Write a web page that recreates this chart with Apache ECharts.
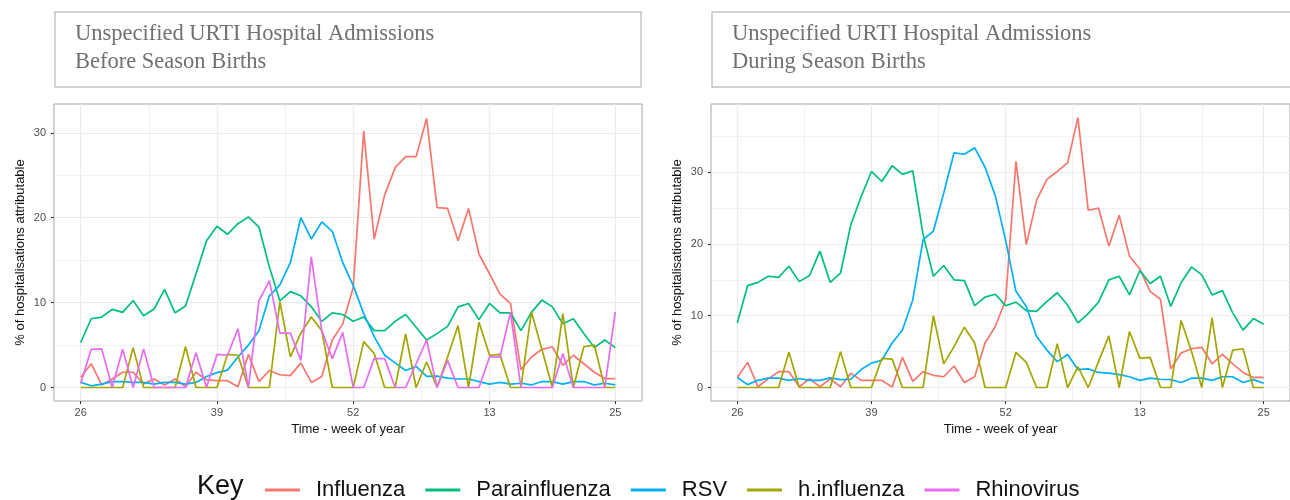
<!DOCTYPE html>
<html>
<head>
<meta charset="utf-8">
<script src="https://cdn.jsdelivr.net/npm/echarts@6/dist/echarts.min.js"></script>
<style>
html, body { margin: 0; padding: 0; background: #fff; }
#chart { width: 1290px; height: 500px; }
</style>
</head>
<body>
<div id="chart"></div>
<script>
// week of year, season runs July to June
const weeks = [26, 27, 28, 29, 30, 31, 32, 33, 34, 35, 36, 37, 38, 39, 40, 41, 42, 43, 44, 45, 46, 47, 48, 49, 50, 51, 52,
    1, 2, 3, 4, 5, 6, 7, 8, 9, 10, 11, 12, 13, 14, 15, 16, 17, 18, 19, 20, 21, 22, 23, 24, 25];
const xTicks = [0, 13, 26, 39, 51];          // positions of 26, 39, 52, 13, 25
const xMinor = [6.5, 19.5, 32.5, 45];
const yTicks = [0, 10, 20, 30];
const yMinor = [5, 15, 25, 35];

// Before season births
const influenzaBefore = [1.2, 2.8, 0.3, 1.0, 1.8, 1.8, 0.4, 1.0, 0.3, 1.0, 0.1, 1.8, 0.9, 0.8, 0.8, 0.1, 3.9, 0.7,
    2.0, 1.5, 1.4, 2.9, 0.6, 1.3, 5.6, 7.5, 11.8, 30.2, 17.5, 22.7, 25.9, 27.2, 27.2, 31.7, 21.2, 21.1, 17.3,
    21.1, 15.7, 13.4, 11.0, 9.9, 2.1, 3.6, 4.5, 4.8, 2.6, 3.8, 2.8, 1.8, 1.05, 1.05];
const paraBefore = [5.3, 8.1, 8.3, 9.2, 8.85, 10.25, 8.45, 9.25, 11.55, 8.8, 9.6, 13.4, 17.3, 19.0, 18.05, 19.3, 20.1, 18.9,
    14.2, 10.2, 11.3, 10.8, 9.5, 7.8, 8.8, 8.6, 7.8, 8.3, 6.7, 6.7, 7.8, 8.6, 7.1, 5.6, 6.35, 7.2, 9.5,
    9.9, 8.0, 9.9, 8.8, 8.8, 6.7, 8.85, 10.3, 9.5, 7.5, 8.1, 6.35, 4.7, 5.6, 4.7];
const rsvBefore = [0.6, 0.2, 0.4, 0.7, 0.7, 0.6, 0.6, 0.4, 0.6, 0.6, 0.4, 0.6, 1.3, 1.75, 2.05, 3.6, 5.0, 6.7,
    10.8, 12.1, 14.7, 20.0, 17.5, 19.5, 18.4, 14.7, 12.0, 8.7, 6.0, 3.8, 2.9, 2.0, 2.5, 1.3, 1.35, 1.1, 1.0,
    1.0, 0.7, 0.4, 0.6, 0.4, 0.5, 0.3, 0.7, 0.7, 0.4, 0.7, 0.7, 0.3, 0.5, 0.3];
const hinfBefore = [0, 0, 0, 0, 0, 4.7, 0, 0, 0, 0, 4.8, 0, 0, 0, 3.9, 3.8, 0, 0, 0,
    10.1, 3.6, 6.4, 8.3, 6.7, 0, 0, 0, 5.4, 4.0, 0, 0, 6.3, 0, 3.0, 0, 3.6, 7.3,
    0, 7.7, 3.8, 3.9, 0, 0, 8.9, 4.5, 0, 8.7, 0, 4.8, 5.0, 0, 0];
const rhinoBefore = [0.5, 4.5, 4.55, 0, 4.5, 0, 4.55, 0, 0, 0, 0, 4.1, 0, 3.9, 3.8, 6.9, 0, 10.2, 12.6,
    6.4, 6.4, 3.2, 15.4, 6.7, 3.4, 6.5, 0, 0, 3.4, 3.4, 0, 0, 2.8, 5.6, 0, 3.2, 0,
    0, 0, 3.6, 3.6, 8.85, 0, 0, 0, 0, 4.0, 0, 0, 0, 0, 8.9];

// During season births
const influenzaDuring = [1.4, 3.5, 0.1, 1.2, 2.2, 2.2, 0.1, 1.2, 0.1, 1.2, 0.1, 2.0, 1.0, 1.0, 1.0, 0.05, 4.2, 0.85,
    2.2, 1.7, 1.5, 3.0, 0.7, 1.5, 6.2, 8.5, 12.2, 31.5, 19.9, 26.1, 29.0, 30.1, 31.3, 37.6, 24.7, 25.0, 19.7,
    24.0, 18.3, 16.5, 13.4, 12.3, 2.6, 4.8, 5.4, 5.6, 3.3, 4.6, 3.3, 2.1, 1.4, 1.4];
const paraDuring = [9.0, 14.2, 14.65, 15.5, 15.35, 16.9, 14.75, 15.6, 19.0, 14.65, 15.95, 22.7, 26.6, 30.1, 28.7, 30.9, 29.7, 30.2,
    21.3, 15.5, 17.0, 15.0, 14.9, 11.4, 12.6, 13.0, 11.4, 11.9, 10.7, 10.6, 12.0, 13.2, 11.5, 9.0, 10.3, 11.9, 15.0,
    15.5, 12.9, 16.3, 14.5, 15.5, 11.3, 14.6, 16.8, 15.7, 12.9, 13.5, 10.4, 8.0, 9.6, 8.8];
const rsvDuring = [1.4, 0.4, 1.0, 1.3, 1.3, 1.0, 1.25, 1.0, 1.0, 1.35, 1.1, 1.15, 2.5, 3.4, 3.8, 6.2, 8.0, 12.2,
    20.6, 21.8, 27.1, 32.7, 32.5, 33.4, 30.7, 26.7, 20.5, 13.4, 11.3, 7.1, 5.2, 3.6, 4.6, 2.5, 2.6, 2.1, 2.0,
    1.8, 1.5, 1.0, 1.3, 1.15, 1.1, 0.7, 1.3, 1.3, 1.0, 1.5, 1.5, 0.7, 1.1, 0.6];
const hinfDuring = [0, 0, 0, 0, 0, 4.9, 0, 0, 0, 0, 5.0, 0, 0, 0, 4.05, 3.95, 0, 0, 0,
    10.0, 3.3, 5.7, 8.4, 6.2, 0, 0, 0, 4.9, 3.5, 0, 0, 6.1, 0, 2.9, 0, 3.6, 7.2,
    0, 7.8, 4.1, 4.2, 0, 0, 9.35, 5.1, 0, 9.7, 0, 5.2, 5.4, 0, 0];

const colors = {
    'Influenza': '#F8766D',
    'Parainfluenza': '#00BF7D',
    'RSV': '#00B0F6',
    'h.influenza': '#A3A500',
    'Rhinovirus': '#E76BF3'
};

const sans = 'Liberation Sans';
const gridColor = '#ebebeb';

function mainX(gridIndex) {
    return {
        type: 'value', gridIndex: gridIndex, min: -2.55, max: 53.55,
        axisLine: { show: false, onZero: false },
        axisTick: { show: true, length: 3, customValues: xTicks, lineStyle: { color: '#333', width: 1 } },
        axisLabel: {
            customValues: xTicks, margin: 6, color: '#4d4d4d', fontSize: 11, fontFamily: sans,
            formatter: function(v) { return String(weeks[Math.round(v)]); }
        },
        splitLine: { show: true, lineStyle: { color: gridColor, width: 1.2 } },
        name: 'Time - week of year', nameLocation: 'middle', nameGap: 22,
        nameTextStyle: { color: '#111', fontSize: 13, fontFamily: sans }
    };
}

function minorX(gridIndex) {
    return {
        type: 'value', gridIndex: gridIndex, min: -2.55, max: 53.55,
        axisLine: { show: false, onZero: false },
        axisTick: { show: false, customValues: xMinor },
        axisLabel: { show: false, customValues: xMinor },
        splitLine: { show: true, lineStyle: { color: gridColor, width: 0.7 } }
    };
}

function mainY(gridIndex, min, max) {
    return {
        type: 'value', gridIndex: gridIndex, min: min, max: max, position: 'left',
        axisLine: { show: false, onZero: false },
        axisTick: { show: true, length: 3, customValues: yTicks, lineStyle: { color: '#333', width: 1 } },
        axisLabel: { customValues: yTicks, margin: 8, color: '#4d4d4d', fontSize: 11, fontFamily: sans },
        splitLine: { show: true, lineStyle: { color: gridColor, width: 1.2 } },
        name: '% of hospitalisations attributable', nameLocation: 'middle', nameGap: 27,
        nameTextStyle: { color: '#111', fontSize: 13, fontFamily: sans }
    };
}

function minorY(gridIndex, min, max) {
    return {
        type: 'value', gridIndex: gridIndex, min: min, max: max, position: 'left',
        axisLine: { show: false, onZero: false },
        axisTick: { show: false, customValues: yMinor },
        axisLabel: { show: false, customValues: yMinor },
        splitLine: { show: true, lineStyle: { color: gridColor, width: 0.7 } }
    };
}

function line(name, values, axisIndex) {
    return {
        name: name, type: 'line', xAxisIndex: axisIndex, yAxisIndex: axisIndex,
        symbol: 'none', silent: true,
        lineStyle: { color: colors[name], width: 1.7 },
        itemStyle: { color: colors[name] },
        data: values.map(function(v, i) { return [i, v]; })
    };
}

function titleText(x, y, text) {
    return { type: 'text', x: x, y: y, style: { text: text, fill: '#707070', font: '22.5px "Liberation Serif"', verticalAlign: 'middle' } };
}

const chart = echarts.init(document.getElementById('chart'));

const option = {
    backgroundColor: '#fff',
    animation: false,
    grid: [
        { left: 54, top: 104, width: 588, height: 297, show: true, borderColor: '#a6a6a6', borderWidth: 1, backgroundColor: '#fff' },
        { left: 711, top: 104, width: 588, height: 297, show: true, borderColor: '#a6a6a6', borderWidth: 1, backgroundColor: '#fff' }
    ],
    xAxis: [mainX(0), minorX(0), mainX(1), minorX(1)],
    yAxis: [mainY(0, -1.59, 33.4), minorY(0, -1.59, 33.4), mainY(1, -1.88, 39.5), minorY(1, -1.88, 39.5)],
    legend: {
        left: 260, top: 474,
        icon: 'rect', itemWidth: 35, itemHeight: 3, itemGap: 20,
        textStyle: { fontSize: 22, fontFamily: sans, color: '#111', padding: [0, 0, 0, 11] },
        data: ['Influenza', 'Parainfluenza', 'RSV', 'h.influenza', 'Rhinovirus']
    },
    graphic: [
        { type: 'rect', shape: { x: 55, y: 12, width: 586, height: 75 }, style: { fill: '#fff', stroke: '#c4c4c4', lineWidth: 1.5 } },
        titleText(75, 34, 'Unspecified URTI Hospital Admissions'),
        titleText(75, 62, 'Before Season Births'),
        { type: 'rect', shape: { x: 712, y: 12, width: 590, height: 75 }, style: { fill: '#fff', stroke: '#c4c4c4', lineWidth: 1.5 } },
        titleText(732, 34, 'Unspecified URTI Hospital Admissions'),
        titleText(732, 62, 'During Season Births'),
        { type: 'text', x: 197, y: 487, style: { text: 'Key', fill: '#111', font: '27px "Liberation Sans"', verticalAlign: 'middle' } }
    ],
    series: [
        line('Influenza', influenzaBefore, 0),
        line('Parainfluenza', paraBefore, 0),
        line('RSV', rsvBefore, 0),
        line('h.influenza', hinfBefore, 0),
        line('Rhinovirus', rhinoBefore, 0),
        line('Influenza', influenzaDuring, 2),
        line('Parainfluenza', paraDuring, 2),
        line('RSV', rsvDuring, 2),
        line('h.influenza', hinfDuring, 2)
    ]
};

chart.setOption(option);
</script>
</body>
</html>
